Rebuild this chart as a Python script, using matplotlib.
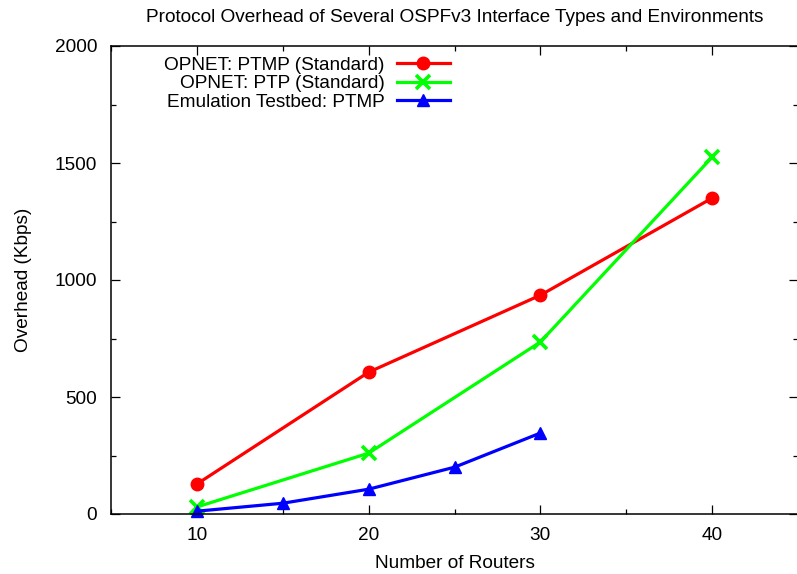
import matplotlib
matplotlib.use("Agg")
import matplotlib.pyplot as plt
from matplotlib.ticker import MultipleLocator

plt.rcParams['font.family'] = ['Liberation Sans', 'DejaVu Sans']

# Overhead measurements (Kbps) versus number of routers
routers_opnet = [10, 20, 30, 40]
ptmp_standard = [128, 606, 935, 1350]
ptp_standard = [30, 260, 735, 1525]

routers_testbed = [10, 15, 20, 25, 30]
testbed_ptmp = [12, 46, 106, 200, 346]

labels = ["OPNET: PTMP (Standard)", "OPNET: PTP (Standard)", "Emulation Testbed: PTMP"]
x_ticks = [10, 20, 30, 40]
y_ticks = [0, 500, 1000, 1500, 2000]

FS = 13.7

fig = plt.figure(figsize=(7.97, 5.74), dpi=100)
ax = fig.add_axes([111 / 797, 60 / 574, 687 / 797, 468 / 574])

ax.plot(routers_opnet, ptmp_standard, color="#ff0000", lw=2.3, marker="o",
        markersize=9, label=labels[0], clip_on=False)
ax.plot(routers_opnet, ptp_standard, color="#00ff00", lw=2.3, marker="x",
        markersize=10, markeredgewidth=2.6, label=labels[1], clip_on=False)
ax.plot(routers_testbed, testbed_ptmp, color="#0000ff", lw=2.3, marker="^",
        markersize=8, label=labels[2], clip_on=False)

ax.set_xlim(5, 45)
ax.set_ylim(0, 2000)
ax.set_xticks(x_ticks)
ax.set_yticks(y_ticks)
ax.xaxis.set_minor_locator(MultipleLocator(5))
ax.yaxis.set_minor_locator(MultipleLocator(250))
ax.tick_params(which="both", direction="in", top=True, right=True,
               labelsize=FS, width=0.9)
ax.tick_params(axis="x", which="major", pad=9)
ax.tick_params(axis="y", which="major", pad=10)
ax.tick_params(which="major", length=6.5)
ax.tick_params(which="minor", length=3.3)
for s in ax.spines.values():
    s.set_linewidth(1.1)

ax.set_xlabel("Number of Routers", fontsize=FS, labelpad=8)
ax.set_ylabel("Overhead (Kbps)", fontsize=FS, labelpad=16)
ax.set_title("Protocol Overhead of Several OSPFv3 Interface Types and Environments",
             fontsize=FS, pad=17)

ax.legend(loc="upper right", bbox_to_anchor=(0.4934, 0.977), frameon=False,
          markerfirst=False, fontsize=FS, handlelength=2.8, handletextpad=0.63,
          labelspacing=0.05, borderpad=0, borderaxespad=0)

fig.savefig("out.png", dpi=100)
